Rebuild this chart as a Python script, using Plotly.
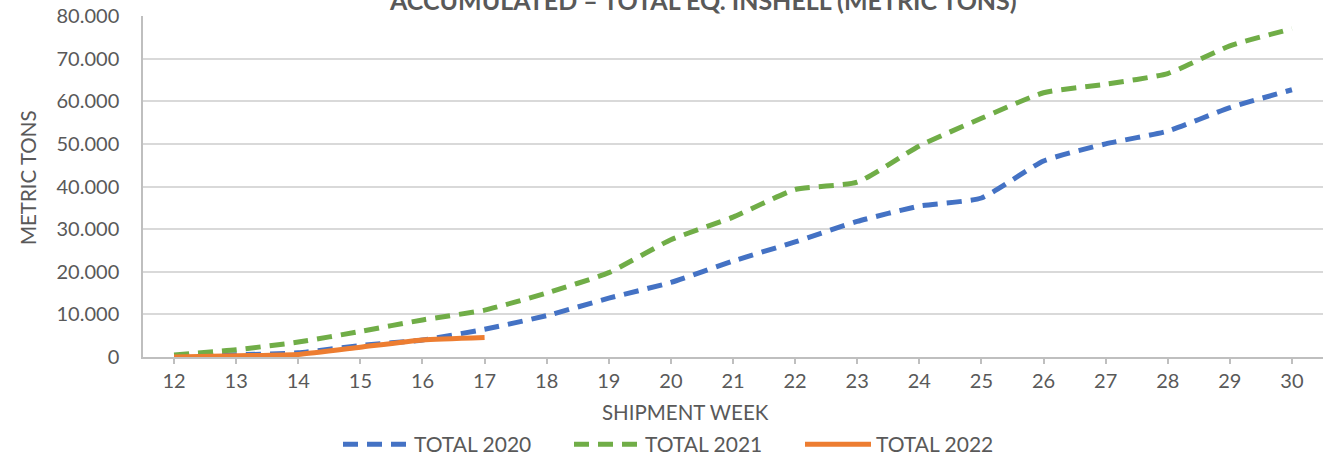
import plotly.graph_objects as go

weeks = list(range(12, 31))
total_2020 = [200, 500, 1000, 2700, 4000, 6500, 9700, 13800, 17500, 22500, 27000, 31800,
              35400, 37300, 46000, 50000, 53000, 58500, 62700]
total_2021 = [500, 1700, 3500, 6000, 8700, 11000, 15000, 19800, 27500, 32800, 39300, 41000,
              49500, 56000, 62000, 64000, 66500, 73000, 77000]
weeks_2022 = [12, 13, 14, 15, 16, 17]
total_2022 = [0, 300, 600, 2300, 4000, 4600]

FONT = "Lato"
GRAY = "#595959"

fig = go.Figure()
fig.add_trace(go.Scatter(x=weeks, y=total_2020, name="TOTAL 2020", mode="lines",
                         line=dict(color="#4472C4", width=5, dash="15px,9px", shape="spline", smoothing=0.5)))
fig.add_trace(go.Scatter(x=weeks, y=total_2021, name="TOTAL 2021", mode="lines",
                         line=dict(color="#70AD47", width=5, dash="15px,9px", shape="spline", smoothing=0.5)))
fig.add_trace(go.Scatter(x=weeks_2022, y=total_2022, name="TOTAL 2022", mode="lines",
                         line=dict(color="#ED7D31", width=5, shape="spline", smoothing=0.5)))

L, R, T, B = 143, 0, 16, 108
W, H = 1323, 465
pw = W - L - R
ph = H - T - B

fig.update_layout(
    width=W, height=H,
    margin=dict(l=L, r=R, t=T, b=B),
    paper_bgcolor="white", plot_bgcolor="white",
    separators=",.",
    font=dict(family=FONT, size=20, color=GRAY),
    showlegend=True,
    legend=dict(orientation="h", x=(338 - L) / pw, xanchor="left",
                y=-(445 - (T + ph)) / ph, yanchor="middle",
                font=dict(family=FONT, size=21, color=GRAY),
                itemwidth=66, entrywidth=150, entrywidthmode="pixels", tracegroupgap=0),
    xaxis=dict(range=[11.5, 30.5], tickvals=weeks, ticktext=[str(w) for w in weeks],
               showgrid=False, zeroline=False, showline=True, linecolor="#BFBFBF", linewidth=1.5,
               ticks="outside", ticklen=5, tickcolor="#BFBFBF", tickwidth=1.5,
               tickfont=dict(family=FONT, size=20, color=GRAY)),
    yaxis=dict(range=[0, 80000], dtick=10000, tickformat=",d",
               showgrid=True, gridcolor="#D9D9D9", gridwidth=1.5, zeroline=False,
               showline=True, linecolor="#BFBFBF", linewidth=1.5,
               ticks="", ticklabelstandoff=18,
               tickfont=dict(family=FONT, size=20, color=GRAY)),
    annotations=[
        dict(text="<b>ACCUMULATED – TOTAL EQ. INSHELL (METRIC TONS)</b>", xref="paper", yref="paper",
             x=(703 - L) / pw, y=1 + (T - 0) / ph, xanchor="center", yanchor="middle",
             showarrow=False, font=dict(family=FONT, size=25, color=GRAY)),
        dict(text="SHIPMENT WEEK", xref="paper", yref="paper",
             x=(685 - L) / pw, y=-(412 - (T + ph)) / ph, xanchor="center", yanchor="middle",
             showarrow=False, font=dict(family=FONT, size=20.5, color=GRAY)),
        dict(text="METRIC TONS", xref="paper", yref="paper", textangle=-90,
             x=(28 - L) / pw, y=1 - (178 - T) / ph, xanchor="center", yanchor="middle",
             showarrow=False, font=dict(family=FONT, size=20.5, color=GRAY)),
    ],
)

fig.write_html("out.html", config={"displayModeBar": False},
               post_script="document.body.style.margin='0';")
